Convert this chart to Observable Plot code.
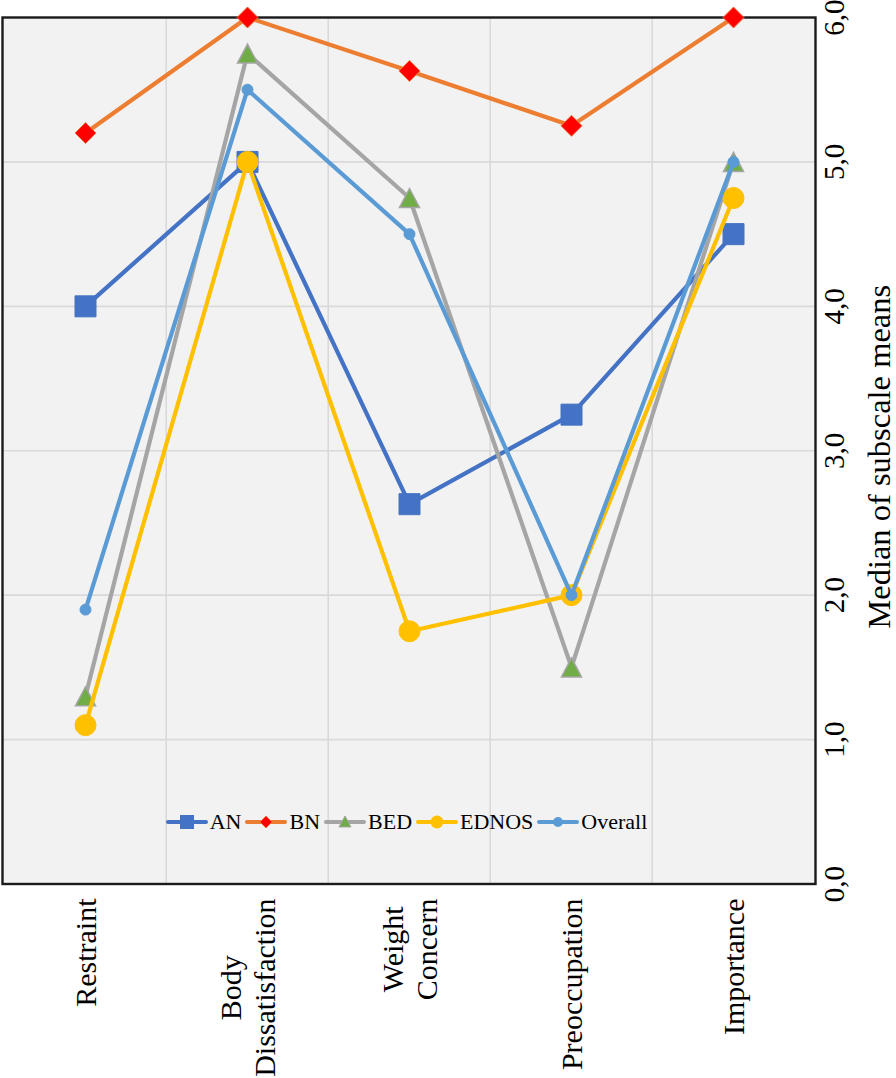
<!DOCTYPE html>
<html>
<head>
<meta charset="utf-8">
<script src="https://cdn.jsdelivr.net/npm/d3@7"></script>
<script src="https://cdn.jsdelivr.net/npm/@observablehq/plot@0.6"></script>
<style>
  html, body { margin: 0; padding: 0; background: white; }
  #wrap { position: relative; width: 896px; height: 1078px; }
  #legend { position: absolute; display: flex; justify-content: center; align-items: center;
            font-family: 'Liberation Serif', 'Times New Roman', serif; font-size: 22px; color: #000; }
  #legend .item { display: flex; align-items: center; margin-right: 4px; }
  #legend .item span { margin-left: 2px; }
</style>
</head>
<body>
<div id="wrap"></div>
<script>
// ---- data ----
const categories = ["Restraint", "Body\nDissatisfaction", "Weight\nConcern", "Preoccupation", "Importance"];
const seriesNames = ["AN", "BN", "BED", "EDNOS", "Overall"];
const AN      = [4.0, 5.0, 2.63, 3.25, 4.5];
const BN      = [5.2, 6.0, 5.63, 5.25, 6.0];
const BED     = [1.3, 5.75, 4.75, 1.5, 5.0];
const EDNOS   = [1.1, 5.0, 1.75, 2.0, 4.75];
const Overall = [1.9, 5.5, 4.5, 2.0, 5.0];
const yTicks = [0, 1, 2, 3, 4, 5, 6];
const yTickLabels = ["0,0", "1,0", "2,0", "3,0", "4,0", "5,0", "6,0"];
const yTitle = "Median of subscale means";

// ---- styles ----
const W = 896, H = 1078, mL = 2, mR = 81, mT = 17, mB = 194.5;
const FONT = "'Liberation Serif', 'Times New Roman', serif";

const sqSym = {draw(ctx, size) { const r = Math.sqrt(size / Math.PI); ctx.rect(-r, -r, 2 * r, 2 * r); }};
const diaSym = {draw(ctx, size) { const r = Math.sqrt(size / Math.PI); ctx.moveTo(0, -r); ctx.lineTo(r, 0); ctx.lineTo(0, r); ctx.lineTo(-r, 0); ctx.closePath(); }};
const triSym = {draw(ctx, size) { const r = Math.sqrt(size / Math.PI); ctx.moveTo(0, -0.95 * r); ctx.lineTo(r, 0.95 * r); ctx.lineTo(-r, 0.95 * r); ctx.closePath(); }};

const seriesStyle = {
  AN:      {values: AN,      line: "#4472C4", fill: "#4472C4", stroke: "#4472C4", sw: 1,   symbol: sqSym,    r: 10.5},
  BN:      {values: BN,      line: "#ED7D31", fill: "#FF0000", stroke: "#F4703A", sw: 1,   symbol: diaSym,   r: 10.5},
  BED:     {values: BED,     line: "#A5A5A5", fill: "#70AD47", stroke: "#A5A5A5", sw: 1.5, symbol: triSym,   r: 10},
  EDNOS:   {values: EDNOS,   line: "#FFC000", fill: "#FFC000", stroke: "#FFC000", sw: 1,   symbol: "circle", r: 10.5},
  Overall: {values: Overall, line: "#5B9BD5", fill: "#5B9BD5", stroke: "#5B9BD5", sw: 1,   symbol: "circle", r: 5.5}
};

const step = (W - mL - mR) / categories.length;

const seriesMarks = seriesNames.flatMap(name => {
  const s = seriesStyle[name];
  const rows = categories.map((c, i) => ({c, v: s.values[i]}));
  return [
    Plot.line(rows, {x: "c", y: "v", stroke: s.line, strokeWidth: 4.2, strokeLinejoin: "round", strokeLinecap: "round"}),
    Plot.dot(rows, {x: "c", y: "v", symbol: s.symbol, r: s.r, fill: s.fill, stroke: s.stroke, strokeWidth: s.sw})
  ];
});

const chart = Plot.plot({
  width: W, height: H,
  marginLeft: mL, marginRight: mR, marginTop: mT, marginBottom: mB,
  style: {fontFamily: FONT, background: "white", color: "black", overflow: "visible"},
  x: {type: "point", domain: categories, padding: 0.5, axis: null},
  y: {domain: [0, 6], axis: null},
  marks: [
    Plot.frame({fill: "#F2F2F2"}),
    Plot.ruleY(yTicks.slice(1), {stroke: "#D9D9D9", strokeWidth: 1.6}),
    Plot.ruleX(categories.slice(1), {dx: -step / 2, stroke: "#D9D9D9", strokeWidth: 1.6}),
    Plot.frame({stroke: "#1a1a1a", strokeWidth: 2.4}),
    ...seriesMarks,
    Plot.text(yTicks, {y: d => d, text: (d, i) => yTickLabels[i], frameAnchor: "right", dx: 19,
      rotate: -90, textAnchor: "middle", lineAnchor: "middle", fontSize: 29, fill: "black"}),
    Plot.text([yTitle], {frameAnchor: "right", dx: 64, dy: 6, rotate: -90, textAnchor: "middle",
      lineAnchor: "middle", fontSize: 32.5, fill: "black"}),
    Plot.text(categories, {x: d => d, text: d => d, frameAnchor: "bottom", dy: 14.5, rotate: -90,
      textAnchor: "end", lineAnchor: "middle", lineHeight: 1.13, fontSize: 30, fill: "black"})
  ]
});

const wrap = document.getElementById("wrap");
wrap.appendChild(chart);

// centre the lines of multi-line category labels relative to their longest line
chart.querySelectorAll("text").forEach(t => {
  const spans = t.querySelectorAll("tspan");
  if (spans.length < 2) return;
  let maxLen = 0;
  spans.forEach(s => { maxLen = Math.max(maxLen, s.getComputedTextLength()); });
  t.setAttribute("text-anchor", "middle");
  t.style.textAnchor = "middle";
  spans.forEach(s => { s.setAttribute("x", String(-maxLen / 2)); s.style.textAnchor = "middle"; });
});

// legend (inside the plot area, near its bottom)
const legend = document.createElement("div");
legend.id = "legend";
legend.style.left = mL + "px";
legend.style.width = (W - mL - mR) + "px";
legend.style.top = "808px";
legend.style.height = "28px";
const legendSym = {
  AN: '<rect x="14" y="3" width="14" height="14" fill="#4472C4"/>',
  BN: '<path d="M21 4 L27 10 L21 16 L15 10 Z" fill="#FF0000" stroke="#F4703A" stroke-width="0.8"/>',
  BED: '<path d="M21 4 L27 15 L15 15 Z" fill="#70AD47" stroke="#A5A5A5" stroke-width="1"/>',
  EDNOS: '<circle cx="21" cy="10" r="6.5" fill="#FFC000"/>',
  Overall: '<circle cx="21" cy="10" r="5" fill="#5B9BD5"/>'
};
seriesNames.forEach(name => {
  const s = seriesStyle[name];
  const item = document.createElement("div");
  item.className = "item";
  item.innerHTML = `<svg width="42" height="20" viewBox="0 0 42 20"><line x1="2" y1="10" x2="40" y2="10" stroke="${s.line}" stroke-width="4" stroke-linecap="round"/>${legendSym[name]}</svg><span>${name}</span>`;
  legend.appendChild(item);
});
wrap.appendChild(legend);
</script>
</body>
</html>
